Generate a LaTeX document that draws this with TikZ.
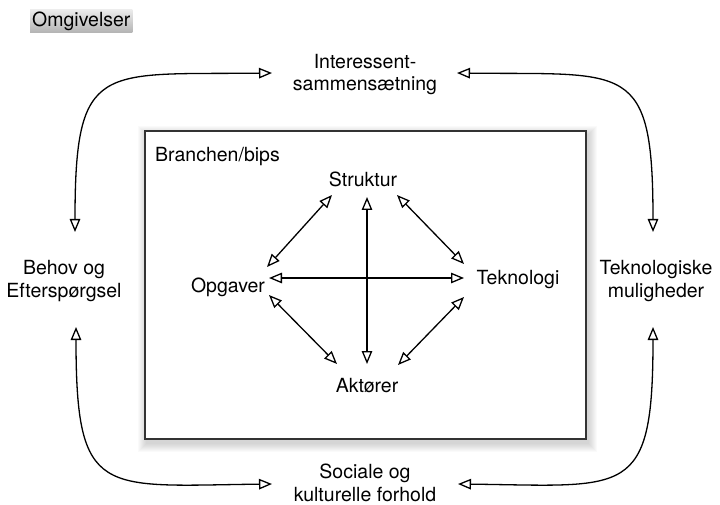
\documentclass[tikz,border=0pt]{standalone}
\usepackage{fontspec}
\setmainfont{TeX Gyre Heros}
\usetikzlibrary{arrows.meta,calc}
\definecolor{frame}{HTML}{333333}
\tikzset{
  lbl/.style={inner sep=0pt, font=\fontsize{19.5}{22.5}\selectfont},
  mlbl/.style={lbl, align=center},
  link/.style={line width=1.3pt, {Triangle[open,length=13pt,width=10.5pt]}-{Triangle[open,length=13pt,width=10.5pt]}},
}
\begin{document}
\begin{tikzpicture}[x=1pt,y=-1pt]
\useasboundingbox (0,0) rectangle (720,505);

% outer label
\node[lbl, anchor=base west, inner xsep=2pt, inner ysep=2pt, text height=15pt, text depth=4pt,
      top color=black!8, bottom color=black!30] (omg) at (30,27) {Omgivelser};

% environment factors
\node[mlbl] (int) at (365,74.5) {Interessent-\\sammensætning};
\node[mlbl] (beh) at (64,281) {Behov og\\Efterspørgsel};
\node[mlbl] (tek) at (656,281) {Teknologiske\\muligheder};
\node[mlbl] (soc) at (365,483) {Sociale og\\kulturelle forhold};

% soft shadow and frame of the industry box
\foreach \i in {1,...,9}
  \fill[black, opacity=0.018] (145-\i+2,131-\i+4) rectangle (586+\i+2,439+\i+4);
\draw[frame, line width=2pt, fill=white] (145,131) rectangle (586,439);
\node[lbl, anchor=base west] (bra) at (155,162) {Branchen/bips};

% inner factors
\node[lbl, anchor=base] (s) at (363,187) {Struktur};
\node[lbl, anchor=base] (o) at (228,292) {Opgaver};
\node[lbl, anchor=base] (t) at (518,284) {Teknologi};
\node[lbl, anchor=base] (a) at (367,392) {Aktører};

% inner relations
\draw[link] ($(s.base)+(-31,8)$) -- ($(o.base)+(39,-25)$);
\draw[link] ($(s.base)+(34,8)$) -- ($(t.base)+(-54,-20)$);
\draw[link] ($(o.base)+(41,3)$) -- ($(a.base)+(-30,-28)$);
\draw[link] ($(t.base)+(-54,13)$) -- ($(a.base)+(31,-27)$);
\draw[link] ($(o.base)+(41,-14)$) -- ($(t.base)+(-54,-6)$);
\draw[link] ($(s.base)+(4,10)$) -- ($(a.base)+(0,-28)$);

% outer relations
\draw[link] ($(beh)+(11,-49)$) .. controls (75,60) and (100,75) .. ($(int)+(-93,-1.5)$);
\draw[link] ($(int)+(92,-1.5)$) .. controls (628,75) and (653,60) .. ($(tek)+(-3,-49)$);
\draw[link] ($(beh)+(12,46)$) .. controls (76,499) and (101,486) .. ($(soc)+(-93,1)$);
\draw[link] ($(soc)+(93,1)$) .. controls (628,486) and (653,499) .. ($(tek)+(-3,46)$);
\end{tikzpicture}
\end{document}
